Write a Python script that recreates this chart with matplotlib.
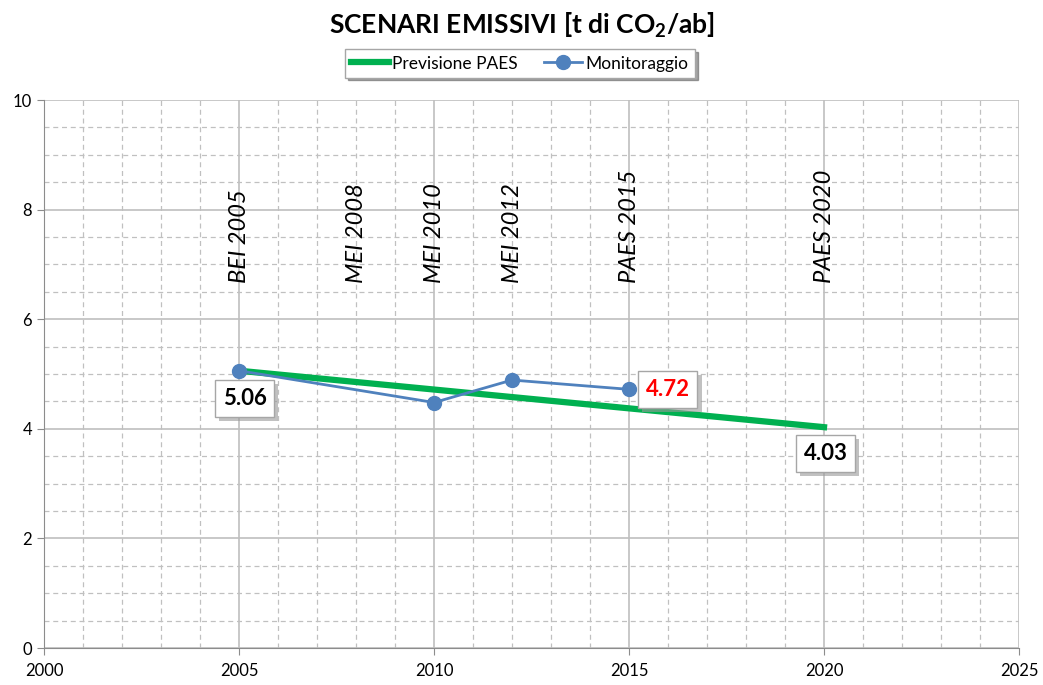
import matplotlib.pyplot as plt
from matplotlib.ticker import MultipleLocator
import matplotlib.patheffects as pe

plt.rcParams['font.family'] = ['Lato', 'DejaVu Sans']

# dati
prev_anni = [2005, 2020]
prev_val = [5.06, 4.03]
mon_anni = [2005, 2010, 2012, 2015]
mon_val = [5.06, 4.48, 4.89, 4.72]
tappe_anni = [2005, 2008, 2010, 2012, 2015, 2020]
tappe_nomi = ['BEI 2005', 'MEI 2008', 'MEI 2010', 'MEI 2012', 'PAES 2015', 'PAES 2020']

fig = plt.figure(figsize=(10.43, 6.85), dpi=100)
ax = fig.add_axes([0.0422, 0.054, 0.9348, 0.800])

ax.set_xlim(2000, 2025)
ax.set_ylim(0, 10)
ax.xaxis.set_major_locator(MultipleLocator(5))
ax.xaxis.set_minor_locator(MultipleLocator(1))
ax.yaxis.set_major_locator(MultipleLocator(2))
ax.yaxis.set_minor_locator(MultipleLocator(0.5))
ax.grid(which='major', color='#bfbfbf', lw=1.2)
ax.grid(which='minor', color='#c0c0c0', lw=0.9, ls=(0, (4, 3)))
ax.set_axisbelow(True)
for s in ['top', 'right']:
    ax.spines[s].set_visible(False)
for s in ['left', 'bottom']:
    ax.spines[s].set_color('#8c8c8c')
ax.tick_params(which='major', length=5, color='#8c8c8c', labelsize=12)
ax.tick_params(which='minor', length=0)
ax.tick_params(axis='x', pad=6)

ax.plot(prev_anni, prev_val, color='#00B050', lw=4.5, label='Previsione PAES', zorder=3)
ax.plot(mon_anni, mon_val, color='#4F81BD', lw=2, marker='o', ms=10,
        label='Monitoraggio', zorder=4)

for x, t in zip(tappe_anni, tappe_nomi):
    ax.text(x, 6.66, t, rotation=90, ha='center', va='bottom', style='italic',
            fontsize=17)

box = dict(boxstyle='square,pad=0.35', fc='white', ec='#a6a6a6', lw=1)
shadow = [pe.withSimplePatchShadow(offset=(3, -3), shadow_rgbFace='#999999', alpha=0.6)]
lab = [(prev_anni[0], prev_val[0], f'{prev_val[0]:.2f}', 'black', 'center', 4, -20),
       (mon_anni[-1], mon_val[-1], f'{mon_val[-1]:.2f}', 'red', 'left', 12, 0),
       (prev_anni[-1], prev_val[-1], f'{prev_val[-1]:.2f}', 'black', 'center', 1, -19)]
for x, y, t, c, ha, dx, dy in lab:
    a = ax.annotate(t, (x, y), xytext=(dx, dy), textcoords='offset points',
                    ha=ha, va='center', fontsize=16, fontweight='bold', color=c,
                    bbox=box, zorder=5)
    a.get_bbox_patch().set_path_effects(shadow)

leg = ax.legend(loc='lower center', bbox_to_anchor=(0.488, 1.025), ncol=2, fontsize=12.5,
                frameon=True, fancybox=False, shadow=True, edgecolor='#a6a6a6',
                handlelength=2.2, columnspacing=1.5, borderpad=0.35, handletextpad=0.2)

fig.text(0.5, 0.963, r'SCENARI EMISSIVI [t di CO$_\mathregular{2}$/ab]', ha='center',
         va='center', fontsize=19, fontweight='bold')

fig.savefig('out.png', dpi=100)
